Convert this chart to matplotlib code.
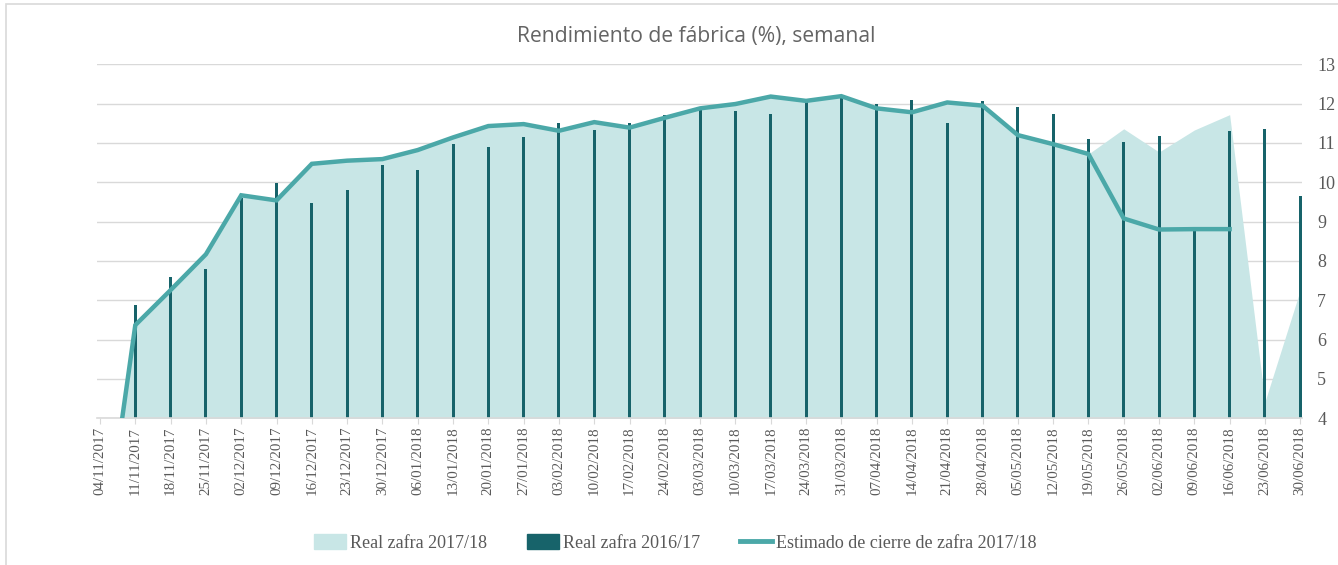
import numpy as np
import matplotlib.pyplot as plt
from matplotlib.patches import Rectangle, Patch
from matplotlib.lines import Line2D

# semanas de zafra
fechas = ['04/11/2017', '11/11/2017', '18/11/2017', '25/11/2017', '02/12/2017',
          '09/12/2017', '16/12/2017', '23/12/2017', '30/12/2017', '06/01/2018',
          '13/01/2018', '20/01/2018', '27/01/2018', '03/02/2018', '10/02/2018',
          '17/02/2018', '24/02/2018', '03/03/2018', '10/03/2018', '17/03/2018',
          '24/03/2018', '31/03/2018', '07/04/2018', '14/04/2018', '21/04/2018',
          '28/04/2018', '05/05/2018', '12/05/2018', '19/05/2018', '26/05/2018',
          '02/06/2018', '09/06/2018', '16/06/2018', '23/06/2018', '30/06/2018']

# Real zafra 2017/18 (area)
real_1718 = [0, 6.37, 7.26, 8.17, 9.67, 9.54, 10.47, 10.55, 10.59, 10.82,
             11.14, 11.43, 11.48, 11.31, 11.53, 11.39, 11.64, 11.88, 11.99, 12.18,
             12.07, 12.19, 11.88, 11.78, 12.03, 11.95, 11.20, 10.97, 10.72, 11.36,
             10.77, 11.33, 11.72, 4.42, 7.26]

# Real zafra 2016/17 (barras)
real_1617 = [np.nan, 6.87, 7.59, 7.80, 9.60, 9.98, 9.48, 9.80, 10.45, 10.31,
             10.98, 10.90, 11.14, 11.52, 11.32, 11.50, 11.71, 11.90, 11.81, 11.74,
             12.05, 12.17, 12.00, 12.08, 11.52, 12.07, 11.92, 11.73, 11.10, 11.03,
             11.17, 8.79, 11.31, 11.35, 9.65]

# Estimado de cierre de zafra 2017/18 (linea)
estimado = [0, 6.37, 7.26, 8.17, 9.67, 9.54, 10.47, 10.55, 10.59, 10.82,
            11.14, 11.43, 11.48, 11.31, 11.53, 11.39, 11.64, 11.88, 11.99, 12.18,
            12.07, 12.19, 11.88, 11.78, 12.03, 11.95, 11.20, 10.97, 10.72, 9.08,
            8.80, 8.81, 8.81, np.nan, np.nan]

c_area = '#c8e6e6'
c_bar = '#17636a'
c_line = '#4ba8a8'
c_text = '#595959'
c_grid = '#d9d9d9'

x = np.arange(len(fechas))

fig = plt.figure(figsize=(13.38, 5.65), dpi=100)
ax = fig.add_axes([0.0725, 0.2596, 0.9006, 0.6266])

ax.fill_between(x, 0, real_1718, color=c_area, lw=0, zorder=1)
ax.bar(x, real_1617, width=0.085, color=c_bar, zorder=2)
ax.plot(x, estimado, color=c_line, lw=3.2, zorder=3, solid_joinstyle='miter')

ax.set_xlim(-0.085, 34.05)
ax.set_ylim(4, 13)
ax.set_yticks(range(4, 14))
ax.yaxis.tick_right()
ax.grid(axis='y', color=c_grid, lw=1)
ax.set_axisbelow(True)
for s in ['top', 'left', 'right']:
    ax.spines[s].set_visible(False)
ax.spines['bottom'].set_color(c_grid)
ax.spines['bottom'].set_linewidth(1.2)

ax.set_xticks(x)
ax.set_xticklabels(fechas, rotation=90, family='Liberation Serif', fontsize=10.8,
                   color=c_text)
ax.tick_params(axis='x', length=4, color=c_grid, pad=2)
ax.tick_params(axis='y', length=0, pad=11, labelsize=13, labelcolor=c_text)
for t in ax.get_yticklabels():
    t.set_family('Liberation Serif')

fig.text(0.52, 0.935, 'Rendimiento de fábrica (%), semanal', ha='center', va='center',
         family='Open Sans', fontsize=15.2, color='#646464')

handles = [Patch(color=c_area), Patch(color=c_bar),
           Line2D([], [], color=c_line, lw=3.5)]
labels = ['Real zafra 2017/18', 'Real zafra 2016/17', 'Estimado de cierre de zafra 2017/18']
fig.legend(handles, labels, loc='center', bbox_to_anchor=(0.5045, 0.039), ncol=3,
           frameon=False, prop={'family': 'Liberation Serif', 'size': 13},
           labelcolor=c_text, handlelength=1.8, handleheight=0.9,
           handletextpad=0.2, columnspacing=2.2)

fig.add_artist(Rectangle((6 / 1338, -0.05), 1.1, 0.9929 + 0.05,
                         transform=fig.transFigure, fill=False,
                         edgecolor=c_grid, lw=1.2))

fig.savefig('out.png', dpi=100)
